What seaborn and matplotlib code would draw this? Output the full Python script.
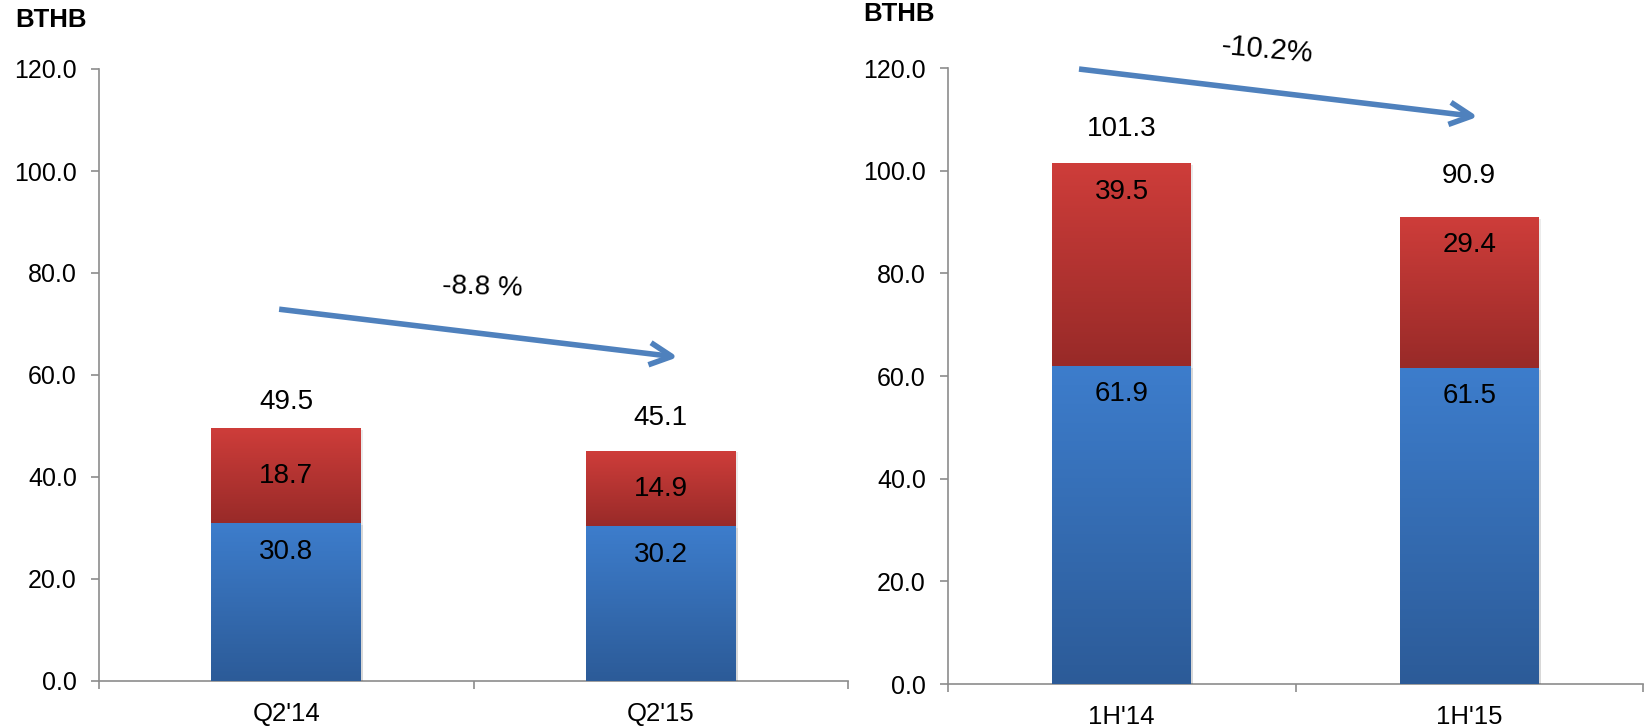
import numpy as np
import pandas as pd
import matplotlib
matplotlib.use("Agg")
import matplotlib.pyplot as plt
import matplotlib.patheffects as pe
import seaborn as sns
from matplotlib.colors import LinearSegmentedColormap
from matplotlib.ticker import FormatStrFormatter

# ---------------- data ----------------
q_categories = ["Q2'14", "Q2'15"]
q_blue = [30.8, 30.2]
q_red = [18.7, 14.9]
q_total = [49.5, 45.1]
q_change = "-8.8 %"

h_categories = ["1H'14", "1H'15"]
h_blue = [61.9, 61.5]
h_red = [39.5, 29.4]
h_total = [101.3, 90.9]
h_change = "-10.2%"

unit_label = "BTHB"
y_ticks = [0, 20, 40, 60, 80, 100, 120]

# ---------------- style ----------------
sns.set_theme(style="white")
plt.rcParams["font.family"] = ["Liberation Sans", "DejaVu Sans"]

BLUE_TOP, BLUE_BOT = "#3D7DCC", "#2C5B98"
RED_TOP, RED_BOT = "#CE3D3A", "#982A28"
AXIS_GREY = "#8C8C8C"
ARROW_BLUE = "#4F81BD"

W, H = 1646, 728
fig = plt.figure(figsize=(W / 100, H / 100), dpi=100)


def axes_px(x0, x1, ytop, ybot):
    return fig.add_axes([x0 / W, 1 - ybot / H, (x1 - x0) / W, (ybot - ytop) / H])


ax1 = axes_px(99, 848, 69, 681)
ax2 = axes_px(948, 1643, 68, 684)

PX = 0.72  # px -> points at dpi 100


def gradient(ax, x0, x1, y0, y1, c_top, c_bot, z):
    cmap = LinearSegmentedColormap.from_list("g", [c_bot, c_top])
    grad = np.linspace(0, 1, 256)[:, None]
    ax.imshow(grad, extent=[x0, x1, y0, y1], origin="lower", cmap=cmap,
              aspect="auto", zorder=z, interpolation="bicubic")


def draw_panel(ax, cats, blue, red, total, total_off, red_centered):
    df = pd.DataFrame({"cat": cats, "blue": blue, "red": red, "total": total})
    sns.barplot(data=df, x="cat", y="total", color=RED_TOP, width=0.4, ax=ax,
                saturation=1, errorbar=None, zorder=2)
    sns.barplot(data=df, x="cat", y="blue", color=BLUE_TOP, width=0.4, ax=ax,
                saturation=1, errorbar=None, zorder=3)
    n = len(cats)
    patches = ax.patches
    shadow = [pe.SimplePatchShadow(offset=(1.5, -1.0), shadow_rgbFace="#000000", alpha=0.08),
              pe.Normal()]
    for i in range(n):
        rp = patches[i]
        bp = patches[n + i]
        rp.set_linewidth(0)
        bp.set_linewidth(0)
        rp.set_path_effects(shadow)
        bp.set_path_effects(shadow)
        x0, x1 = rp.get_x(), rp.get_x() + rp.get_width()
        gradient(ax, x0, x1, blue[i], total[i], RED_TOP, RED_BOT, 2.5)
        gradient(ax, x0, x1, 0, blue[i], BLUE_TOP, BLUE_BOT, 3.5)

        # labels
        ax.annotate(f"{total[i]:.1f}", xy=(i, total[i]), xytext=(0, total_off[i] * PX),
                    textcoords="offset points", ha="center", va="center",
                    fontsize=20, color="black", annotation_clip=False, zorder=5)
        if red_centered:
            ax.text(i, (blue[i] + total[i]) / 2, f"{red[i]:.1f}", ha="center", va="center",
                    fontsize=20, color="black", zorder=5)
        else:
            ax.annotate(f"{red[i]:.1f}", xy=(i, total[i]), xytext=(0, -28 * PX),
                        textcoords="offset points", ha="center", va="center",
                        fontsize=20, color="black", zorder=5)
        ax.annotate(f"{blue[i]:.1f}", xy=(i, blue[i]), xytext=(0, -28 * PX),
                    textcoords="offset points", ha="center", va="center",
                    fontsize=20, color="black", zorder=5)

    ax.set_xlim(-0.5, 1.5)
    ax.set_ylim(0, 120)
    ax.set_yticks(y_ticks)
    ax.yaxis.set_major_formatter(FormatStrFormatter("%.1f"))
    ax.set_xlabel("")
    ax.set_ylabel("")
    sns.despine(ax=ax, top=True, right=True)
    for s in ["left", "bottom"]:
        ax.spines[s].set_color(AXIS_GREY)
        ax.spines[s].set_linewidth(1.2)
    ax.tick_params(axis="y", left=True, length=6, width=1.2, color=AXIS_GREY,
                   pad=10, labelsize=18, labelcolor="black", direction="out")
    ax.set_xticks([-0.5, 0.5, 1.5], minor=True)
    ax.tick_params(axis="x", which="major", bottom=False, length=0, pad=15,
                   labelsize=18.5, labelcolor="black")
    ax.tick_params(axis="x", which="minor", bottom=True, length=6, width=1.2,
                   color=AXIS_GREY, direction="out")
    ax.set_facecolor("white")
    ax.grid(False)


draw_panel(ax1, q_categories, q_blue, q_red, q_total, [27, 33], True)
draw_panel(ax2, h_categories, h_blue, h_red, h_total, [35, 41], False)

arrow_kw = dict(arrowstyle="->,head_length=0.8,head_width=0.4", color=ARROW_BLUE,
                lw=4, shrinkA=0, shrinkB=0, mutation_scale=20, capstyle="butt")

ax1.annotate("", xy=(1.046, 63.5), xytext=(-0.019, 72.9), arrowprops=arrow_kw,
             annotation_clip=False, zorder=6)
ax1.text(0.525, 77.1, q_change, ha="center", va="center", fontsize=20,
         rotation=-2, color="black")

ax2.annotate("", xy=(1.025, 110.5), xytext=(-0.123, 119.8), arrowprops=arrow_kw,
             annotation_clip=False, zorder=6)
ax2.text(0.418, 123.5, h_change, ha="center", va="center", fontsize=21,
         rotation=-5, color="black", clip_on=False)

fig.text(15 / W, 1 - 20 / H, unit_label, ha="left", va="center", fontsize=18.5,
         fontweight="bold", color="black")
fig.text(863 / W, 1 - 14 / H, unit_label, ha="left", va="center", fontsize=18.5,
         fontweight="bold", color="black")

fig.savefig("out.png", dpi=100, facecolor="white")
